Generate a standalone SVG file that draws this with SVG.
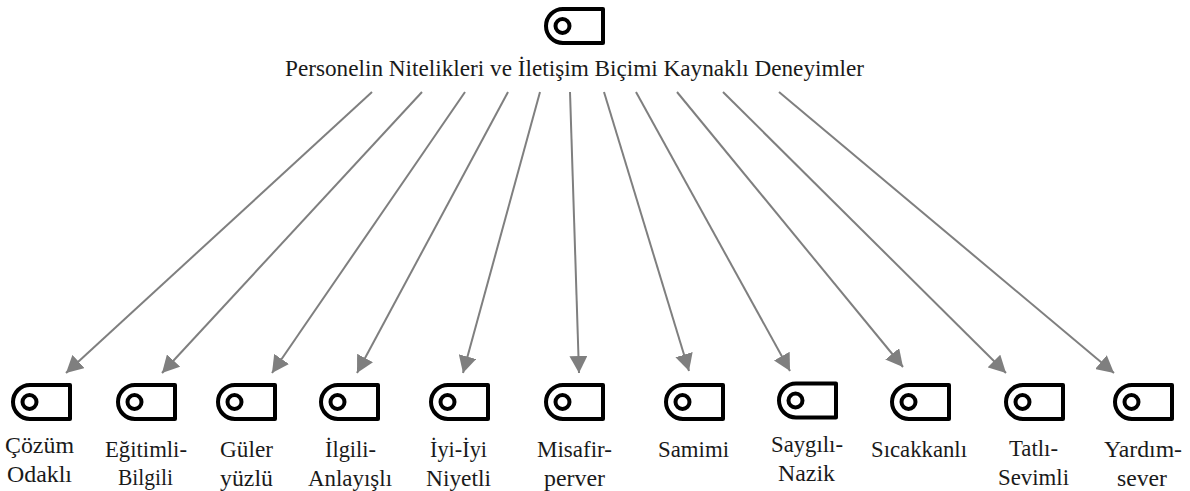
<svg xmlns="http://www.w3.org/2000/svg" width="1190" height="491" viewBox="0 0 1190 491">
<style>
text{font-family:"Liberation Serif",serif;font-size:22.5px;fill:#1a1a1a}
.i{fill:none;stroke:#000;stroke-width:4;stroke-linejoin:round}
.c{stroke:#7f7f7f;stroke-width:2;fill:none;marker-end:url(#a)}
</style>
<defs>
<marker id="a" markerUnits="userSpaceOnUse" markerWidth="18" markerHeight="18" refX="17" refY="9" orient="auto"><path d="M0 0L17 9L0 18Z" fill="#7f7f7f"/></marker>
<g id="ic"><path class="i" d="M58 2H18A17 17 0 0 0 18 36H58Z"/><circle class="i" cx="17.5" cy="19" r="7"/></g>
</defs>
<rect width="1190" height="491" fill="#fff"/>
<g id="connectors">
<path class="c" d="M372 92L66 373"/>
<path class="c" d="M422 92L162 373"/>
<path class="c" d="M465 92L272 373"/>
<path class="c" d="M508 92L357 373"/>
<path class="c" d="M540 92L463 373"/>
<path class="c" d="M570 92L579 373"/>
<path class="c" d="M604 92L689 371"/>
<path class="c" d="M636 92L790 371"/>
<path class="c" d="M677 92L903 367"/>
<path class="c" d="M723 92L1006 373"/>
<path class="c" d="M779 92L1114 373"/>
</g>
<g id="n0"><use href="#ic" x="545" y="7"/><text x="285" y="76" textLength="579" lengthAdjust="spacingAndGlyphs">Personelin Nitelikleri ve İletişim Biçimi Kaynaklı Deneyimler</text></g>
<g id="n1"><use href="#ic" x="12" y="383"/><text x="5" y="453" textLength="69" lengthAdjust="spacingAndGlyphs">Çözüm</text><text x="7" y="482" textLength="65" lengthAdjust="spacingAndGlyphs">Odaklı</text></g>
<g id="n2"><use href="#ic" x="117" y="383"/><text x="105" y="457" textLength="82" lengthAdjust="spacingAndGlyphs">Eğitimli-</text><text x="118" y="485" textLength="55" lengthAdjust="spacingAndGlyphs">Bilgili</text></g>
<g id="n3"><use href="#ic" x="217" y="383"/><text x="220" y="457" textLength="53" lengthAdjust="spacingAndGlyphs">Güler</text><text x="220" y="486" textLength="53" lengthAdjust="spacingAndGlyphs">yüzlü</text></g>
<g id="n4"><use href="#ic" x="320" y="383"/><text x="325" y="457" textLength="51" lengthAdjust="spacingAndGlyphs">İlgili-</text><text x="308" y="486" textLength="84" lengthAdjust="spacingAndGlyphs">Anlayışlı</text></g>
<g id="n5"><use href="#ic" x="430" y="383"/><text x="430" y="457" textLength="57" lengthAdjust="spacingAndGlyphs">İyi-İyi</text><text x="426" y="486" textLength="65" lengthAdjust="spacingAndGlyphs">Niyetli</text></g>
<g id="n6"><use href="#ic" x="545" y="383"/><text x="537" y="457" textLength="75" lengthAdjust="spacingAndGlyphs">Misafir-</text><text x="544" y="486" textLength="61" lengthAdjust="spacingAndGlyphs">perver</text></g>
<g id="n7"><use href="#ic" x="665" y="383"/><text x="658" y="457" textLength="71" lengthAdjust="spacingAndGlyphs">Samimi</text></g>
<g id="n8"><use href="#ic" x="778" y="381.5"/><text x="771" y="452" textLength="72" lengthAdjust="spacingAndGlyphs">Saygılı-</text><text x="778" y="481" textLength="57" lengthAdjust="spacingAndGlyphs">Nazik</text></g>
<g id="n9"><use href="#ic" x="891" y="383"/><text x="871" y="457" textLength="96" lengthAdjust="spacingAndGlyphs">Sıcakkanlı</text></g>
<g id="n10"><use href="#ic" x="1005" y="383"/><text x="1009" y="456" textLength="49" lengthAdjust="spacingAndGlyphs">Tatlı-</text><text x="998" y="485" textLength="71" lengthAdjust="spacingAndGlyphs">Sevimli</text></g>
<g id="n11"><use href="#ic" x="1114" y="383"/><text x="1104" y="457" textLength="78" lengthAdjust="spacingAndGlyphs">Yardım-</text><text x="1117" y="486" textLength="50" lengthAdjust="spacingAndGlyphs">sever</text></g>
</svg>
